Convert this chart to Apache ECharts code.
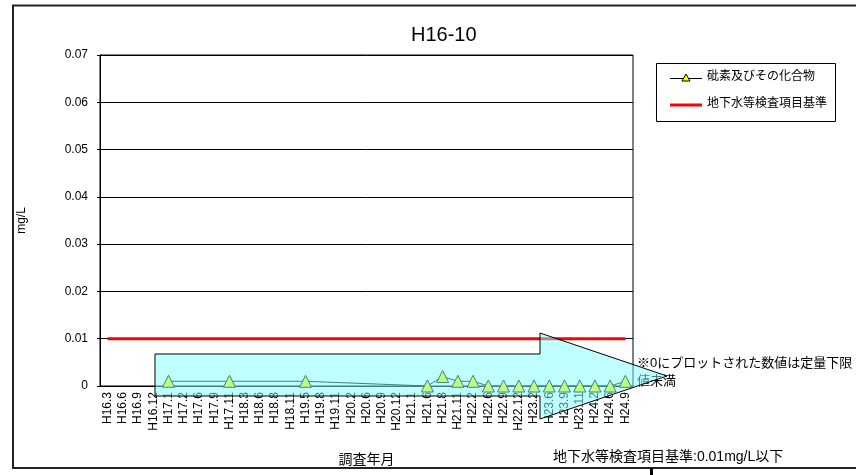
<!DOCTYPE html>
<html>
<head>
<meta charset="utf-8">
<script src="https://cdn.jsdelivr.net/npm/echarts@6/dist/echarts.min.js"></script>
<style>
html,body{margin:0;padding:0;background:#fff;}
#chart{width:856px;height:475px;}
</style>
</head>
<body>
<div id="chart"></div>
<script>
var categories = ['H16.3','H16.6','H16.9','H16.12','H17.1','H17.2','H17.6','H17.9','H17.11','H18.3','H18.6','H18.8','H18.11','H19.5','H19.8','H19.11','H20.2','H20.6','H20.9','H20.12','H21.1','H21.6','H21.8','H21.11','H22.2','H22.6','H22.9','H22.12','H23.2','H23.6','H23.9','H23.11','H24.2','H24.6','H24.9'];
var arsenic = [null,null,null,null,0.001,null,null,null,0.001,null,null,null,null,0.001,null,null,null,null,null,null,null,0,0.002,0.001,0.001,0,0,0,0,0,0,0,0,0,0.001];
var standard = [0.01,0.01,0.01,0.01,0.01,0.01,0.01,0.01,0.01,0.01,0.01,0.01,0.01,0.01,0.01,0.01,0.01,0.01,0.01,0.01,0.01,0.01,0.01,0.01,0.01,0.01,0.01,0.01,0.01,0.01,0.01,0.01,0.01,0.01,0.01];
var seriesNames = ['砒素及びその化合物','地下水等検査項目基準'];
var titleText = 'H16-10';
var yAxisName = 'mg/L';
var xAxisName = '調査年月';
var noteLines = ['※0にプロットされた数値は定量下限','値未満'];
var footText = '地下水等検査項目基準:0.01mg/L以下';

var FONT = '"Liberation Sans","Noto Sans CJK JP",sans-serif';
var chart = echarts.init(document.getElementById('chart'));
chart.setOption({
  animation: false,
  backgroundColor: '#fff',
  textStyle: {fontFamily: FONT, color: '#000'},
  title: {
    text: titleText, left: 406, top: 20,
    textStyle: {fontSize: 20, fontWeight: 'normal', color: '#000', fontFamily: FONT}
  },
  grid: {left: 100, right: 223, top: 55, bottom: 89, show: true, borderColor: '#000', borderWidth: 1, backgroundColor: '#fff'},
  legend: {show: false},
  xAxis: {
    type: 'category', data: categories, boundaryGap: true,
    name: xAxisName, nameLocation: 'middle', nameGap: 67,
    nameTextStyle: {fontSize: 14, color: '#000', fontFamily: FONT},
    axisLine: {lineStyle: {color: '#000', width: 1}},
    axisTick: {inside: true, length: 4, lineStyle: {color: '#000'}},
    axisLabel: {rotate: 90, fontSize: 12, color: '#000', margin: 6, interval: 0, fontFamily: FONT},
    splitLine: {show: false}
  },
  yAxis: {
    type: 'value', min: 0, max: 0.07, interval: 0.01,
    name: yAxisName, nameLocation: 'middle', nameGap: 72, nameRotate: 90,
    nameTextStyle: {fontSize: 12, color: '#000', fontFamily: FONT},
    axisLine: {show: true, lineStyle: {color: '#000'}},
    axisTick: {show: true, length: 3, lineStyle: {color: '#000'}},
    axisLabel: {fontSize: 12, color: '#000', margin: 12, fontFamily: FONT,
      formatter: function(v){ return v === 0 ? '0' : v.toFixed(2); }},
    splitLine: {show: true, lineStyle: {color: '#000', width: 1}}
  },
  series: [
    {
      name: seriesNames[0], type: 'line', data: arsenic, connectNulls: true,
      symbol: 'triangle', symbolSize: 12, z: 3,
      lineStyle: {color: '#000', width: 1},
      itemStyle: {color: '#ffff00', borderColor: '#000', borderWidth: 1}
    },
    {
      name: seriesNames[1], type: 'line', data: standard, symbol: 'none', z: 2,
      lineStyle: {color: '#ff0000', width: 3},
      itemStyle: {color: '#ff0000'}
    }
  ],
  graphic: [
    {type: 'rect', z: 1, shape: {x: 13, y: 5.5, width: 870, height: 462.5}, style: {fill: 'none', stroke: '#222', lineWidth: 2}, silent: true},
    {type: 'rect', z: 1, shape: {x: 650, y: 468, width: 3, height: 8}, style: {fill: '#000'}, silent: true},
    {type: 'rect', z: 50, shape: {x: 656.5, y: 63.5, width: 179, height: 58}, style: {fill: '#fff', stroke: '#000', lineWidth: 1}, silent: true},
    {type: 'line', z: 51, shape: {x1: 670, y1: 78.5, x2: 702, y2: 78.5}, style: {stroke: '#000', lineWidth: 1}, silent: true},
    {type: 'polygon', z: 52, shape: {points: [[686,74],[690,81],[682,81]]}, style: {fill: '#ffff00', stroke: '#000', lineWidth: 1}, silent: true},
    {type: 'text', z: 51, left: 707, top: 71, style: {text: seriesNames[0], fill: '#000', font: '12px ' + FONT}, silent: true},
    {type: 'rect', z: 51, shape: {x: 670, y: 103.5, width: 32, height: 3}, style: {fill: '#ff0000'}, silent: true},
    {type: 'text', z: 51, left: 707, top: 98, style: {text: seriesNames[1], fill: '#000', font: '12px ' + FONT}, silent: true},
    {type: 'text', z: 50, left: 637, top: 354, style: {text: noteLines.join('\n'), lineHeight: 18, fill: '#000', font: '13px ' + FONT}},
    {type: 'text', z: 50, left: 553, top: 450, style: {text: footText, fill: '#000', font: '14px ' + FONT}},
    {type: 'polygon', z: 100, shape: {points: [[155,354],[540,354],[540,333],[667,376],[540,419],[540,396],[155,396]]},
      style: {fill: 'rgba(128,255,255,0.5)', stroke: '#000', lineWidth: 1}, silent: true}
  ]
});
</script>
</body>
</html>
